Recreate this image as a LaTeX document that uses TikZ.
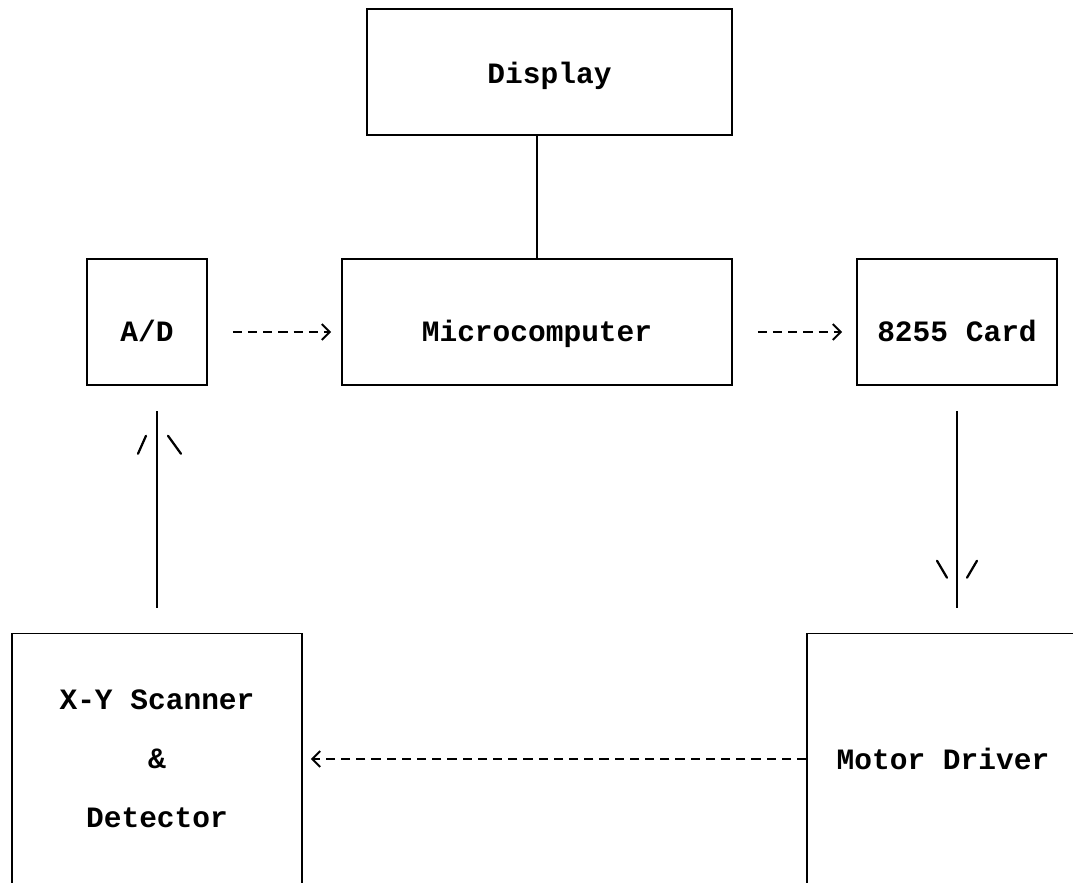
\documentclass[tikz,border=0pt]{standalone}
\usepackage{fontspec}
\setmonofont{Liberation Mono}
\usetikzlibrary{arrows.meta}

\begin{document}
\begin{tikzpicture}[x=0.25mm,y=-0.25mm,
    box/.style={draw,line width=1.1pt,inner sep=0pt,align=center,
      font=\ttfamily\bfseries\fontsize{21}{42}\selectfont},
    midrow/.style={text height=9.8mm,text depth=0pt},
    link/.style={line width=1.2pt},
    dashlink/.style={line width=1.3pt,dash pattern=on 2.3mm off 1.5mm,
      -{Straight Barb[length=2mm,width=4mm,line width=1.4pt]}},
    tick/.style={line width=1.6pt,line cap=round}]
      \clip (0,0) rectangle (1073,882);
      \draw
        (549.5,72) node[box,minimum width=91.25mm,minimum height=31.5mm,text height=5.8mm,text depth=0pt] (disp){Display}
        (147,322) node[box,midrow,minimum width=30mm,minimum height=31.5mm] (ad){A/D}
        (537,322) node[box,midrow,minimum width=97.5mm,minimum height=31.5mm] (mc){Microcomputer}
        (957,322) node[box,midrow,minimum width=50mm,minimum height=31.5mm] (card){8255 Card}
        (157,759) node[box,minimum width=72.5mm,minimum height=62.75mm] (xy){X-Y Scanner\\\&\\Detector}
        (943,759) node[box,minimum width=68mm,minimum height=62.75mm] (mot){Motor Driver};
      \coordinate (adtip) at ([yshift=-6.25mm]xy.north |- ad.south);
      \coordinate (cardtip) at ([yshift=6.25mm]card.south |- mot.north);
      \begin{scope}[link]
        \draw (mc.north |- disp.south) to (mc.north);
        \draw[shorten <=6.25mm] (xy.north) to (adtip);
        \draw[shorten <=6.25mm] (card.south) to (cardtip);
      \end{scope}
      \begin{scope}[dashlink]
        \draw[shorten <=6.25mm,shorten >=2.5mm] ([yshift=-2.5mm]ad.east) to ([yshift=-2.5mm]mc.west);
        \draw[shorten <=6.25mm,shorten >=3.5mm] ([yshift=-2.5mm]mc.east) to ([yshift=-2.5mm]card.west);
        \draw[shorten >=2mm] (mot.west |- xy.center) to (xy.east |- xy.center);
      \end{scope}
      \begin{scope}[tick]
        \draw ([shift={(-19,43)}]adtip) -- ++(8,-18);
        \draw ([shift={(11,25)}]adtip) -- ++(13,18);
        \draw ([shift={(-20,-47)}]cardtip) -- ++(10,17);
        \draw ([shift={(20,-47)}]cardtip) -- ++(-10,17);
      \end{scope}
    \end{tikzpicture}
\end{document}
